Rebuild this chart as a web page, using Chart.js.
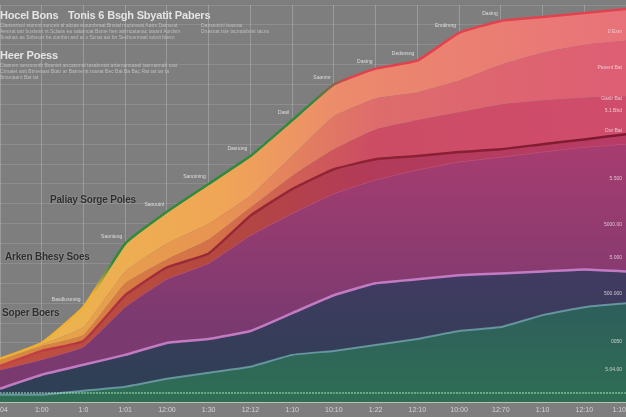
<!DOCTYPE html>
<html>
<head>
<meta charset="utf-8">
<script src="https://cdn.jsdelivr.net/npm/chart.js@4.4.1/dist/chart.umd.min.js"></script>
<style>
    html, body { margin: 0; padding: 0; background: #7e7e7e; }
    #wrap { position: relative; width: 626px; height: 417px; overflow: hidden; }
    #chart { position: absolute; left: -3px; top: 0; }
    .lbl {
        position: absolute;
        font-family: 'Liberation Sans Narrow', 'Liberation Sans', Arial, sans-serif;
        font-weight: bold;
        white-space: nowrap;
        letter-spacing: -0.2px;
    }
    .light { color: #e4e4e4; font-size: 11px; }
    .dark { color: #2e2e2e; font-size: 10px; text-shadow: 0 0 2px rgba(255,255,255,0.35); }
    .tiny {
        position: absolute;
        font-family: 'Liberation Sans Narrow', 'Liberation Sans', Arial, sans-serif;
        font-size: 5px;
        line-height: 6px;
        color: #bdbdbd;
        white-space: nowrap;
    }
</style>
</head>
<body>
<div id="wrap">
    <canvas id="chart" width="632" height="417"></canvas>
    <div class="lbl light" style="left:0px; top:9px;">Hocel Bons</div>
    <div class="lbl light" style="left:68px; top:9px;">Tonis 6 Bsgh Sbyatit Pabers</div>
    <div class="tiny" style="left:0px; top:22px;">Clanesrtsol etomnt sunceb al alctas etoumbraat Bnstal nucteneat Aatrs Datmeat<br>Aesnat tatr bustsnn nt Sclans ea satamcat Bsme hen aisrncatanac tasanl Aurdsm<br>Snalnas as Snbscer be ctsnbtn asd ar s Scnat ast bn Sechcenmatl sotnit btesn</div>
    <div class="tiny" style="left:201px; top:22px;">Dansentinl teasnat<br>Dnasnat tste tscnatsbnst tacns</div>
    <div class="lbl light" style="left:0px; top:49px;">Heer Poess</div>
    <div class="tiny" style="left:0px; top:62px;">Ctasnen aesonsnth Bsantet ancatsmal tasabretat arttenamtaeal tasmatmab toat<br>Ctmatet astt Btmenast Btatr ar Batmentt tsanat Bec Bat Ba Bac Rat tat tar ta<br>Bnsetaant Bat tat</div>
    <div class="lbl dark" style="left:50px; top:194px;">Paliay Sorge Poles</div>
    <div class="lbl dark" style="left:5px; top:251px;">Arken Bhesy Soes</div>
    <div class="lbl dark" style="left:2px; top:307px;">Soper Boers</div>
</div>
<script>
// x axis tick labels (one per sample column)
const xLabels = ['04', '1:00', '1:0', '1:01', '12:00', '1:30', '12:12', '1:10', '10:10', '1:22', '12:10', '10:00', '12:70', '1:10', '12:10', '1:10'];

// band boundaries, bottom to top (value scale 0-100)
const tealLine    = [2, 2, 3, 4, 6, 7.5, 9, 12, 13, 14.5, 16, 18, 19, 22, 24, 25];
const lilacLine   = [3.5, 7, 9.5, 12, 15, 16, 18, 22.5, 27, 30, 31, 32, 32.5, 33, 33.5, 33];
const magentaTop  = [8.2, 10.8, 14, 24, 31, 35, 42, 47.5, 52.5, 56, 58.5, 60.5, 61.7, 63, 64.2, 65];
const darkRedLine = [9.2, 13, 15.5, 27, 34, 37.5, 47, 53.7, 58.7, 61.2, 62, 63, 63.7, 65, 66.2, 67.5];
const roseBand    = [10.7, 14.2, 17, 30, 36, 41, 49, 57, 63.7, 68.7, 71, 73, 75, 76, 76.7, 77];
const salmonBand  = [10.9, 14.6, 19, 33, 40, 45, 52, 62, 72, 76.5, 78, 81, 85, 88, 90, 91];
const topLine     = [11, 15, 24, 40, 48, 55, 62, 71, 80, 84, 86, 93, 96, 97, 98, 99];

// faint activity strip near the bottom
const stripLine   = [2.4, 2.4, 2.4, 2.4, 2.4, 2.4, 2.4, 2.4, 2.4, 2.4, 2.4, 2.4, 2.4, 2.4, 2.4, 2.4];

// small point notes along the top edge
const topNotes = ['', '', 'Basdlusmnig', 'Saoniung', 'Sanuuinl', 'Sanoming', 'Dasnong', 'Dasil', 'Saonmr', 'Dasing', 'Dedsnsng', 'Emdimng', 'Dasing', '', '', ''];

// side notes on the right edge
const sideNotes = ['0 Exm', 'Pasent Bat', 'Gaslr Bat', '5.1 Bbd', 'Our Bat', '5.500', '5000.00', '5.000', '500.000', '0050', '5.04.00'];
const sideLevels = [93, 84, 76, 73, 68, 56, 44.5, 36, 27, 15, 8];

function hGrad(chart, stops) {
    const { ctx, chartArea } = chart;
    if (!chartArea) return stops[0][1];
    const g = ctx.createLinearGradient(chartArea.left, 0, chartArea.right, 0);
    stops.forEach(([p, c]) => g.addColorStop(p, c));
    return g;
}

function vGrad(chart, hi, lo, cHi, cLo) {
    const { ctx, chartArea, scales } = chart;
    if (!chartArea) return cHi;
    const g = ctx.createLinearGradient(0, scales.y.getPixelForValue(hi), 0, scales.y.getPixelForValue(lo));
    g.addColorStop(0, cHi);
    g.addColorStop(1, cLo);
    return g;
}

const notesPlugin = {
    id: 'notes',
    afterDatasetsDraw(chart) {
        const { ctx, chartArea, scales } = chart;
        const meta = chart.getDatasetMeta(7);
        ctx.save();
        ctx.font = '5px "Liberation Sans", Arial, sans-serif';
        ctx.fillStyle = 'rgba(235,235,235,0.85)';
        ctx.textAlign = 'right';
        meta.data.forEach((pt, i) => {
            if (!topNotes[i]) return;
            ctx.fillText(topNotes[i], pt.x - 3, pt.y - 6);
        });
        ctx.fillStyle = 'rgba(240,225,230,0.8)';
        sideNotes.forEach((t, i) => {
            ctx.fillText(t, chartArea.right - 4, scales.y.getPixelForValue(sideLevels[i]));
        });
        ctx.restore();
    }
};

const ctx = document.getElementById('chart').getContext('2d');

const base = { tension: 0.12, pointRadius: 0, borderWidth: 0 };

new Chart(ctx, {
    type: 'line',
    data: {
        labels: xLabels,
        datasets: [
            {
                ...base,
                label: 'Strip',
                data: stripLine,
                fill: false,
                borderWidth: 2,
                borderDash: [2, 1],
                borderColor: 'rgba(170,230,190,0.5)'
            },
            {
                ...base,
                label: 'Teal',
                data: tealLine,
                fill: 'origin',
                borderWidth: 2,
                borderColor: 'rgba(110,160,170,0.85)',
                backgroundColor: c => vGrad(c.chart, 25, 0, '#2e5e5c', '#2f6e54')
            },
            {
                ...base,
                label: 'Lilac',
                data: lilacLine,
                fill: '-1',
                borderWidth: 2.5,
                borderColor: 'rgba(205,130,205,0.9)',
                backgroundColor: c => vGrad(c.chart, 33, 5, '#423a62', '#2f3f55')
            },
            {
                ...base,
                label: 'Magenta',
                data: magentaTop,
                fill: '-1',
                borderWidth: 1,
                borderColor: 'rgba(200,80,120,0.6)',
                backgroundColor: c => vGrad(c.chart, 65, 20, '#a83c70', '#7a3a70')
            },
            {
                ...base,
                label: 'Dark red',
                data: darkRedLine,
                fill: '-1',
                borderWidth: 2.5,
                borderColor: c => hGrad(c.chart, [[0, '#c8404c'], [0.3, '#9a2a38'], [1, '#7e1830']]),
                backgroundColor: c => hGrad(c.chart, [[0, '#c05040'], [0.35, '#b4483e'], [0.6, '#b23a5a'], [1, '#b83c66']])
            },
            {
                ...base,
                label: 'Rose',
                data: roseBand,
                fill: '-1',
                backgroundColor: c => hGrad(c.chart, [[0, '#d88a3e'], [0.35, '#d47048'], [0.6, '#cc4c64'], [1, '#d04c6c']])
            },
            {
                ...base,
                label: 'Salmon',
                data: salmonBand,
                fill: '-1',
                backgroundColor: c => hGrad(c.chart, [[0, '#e6a846'], [0.35, '#e89452'], [0.6, '#de6c6c'], [1, '#de5e74']])
            },
            {
                ...base,
                label: 'Top',
                data: topLine,
                fill: '-1',
                borderWidth: 2.5,
                borderColor: c => hGrad(c.chart, [[0, '#f0b030'], [0.15, '#f0b030'], [0.18, '#2f8a3c'], [0.5, '#2f8a3c'], [0.56, '#e2404c'], [1, '#e2424e']]),
                backgroundColor: c => hGrad(c.chart, [[0, '#eab84c'], [0.35, '#f0a656'], [0.55, '#ec8a6c'], [1, '#e8727a']])
            }
        ]
    },
    options: {
        responsive: false,
        animation: false,
        layout: { padding: { top: 5, left: 0, right: 0, bottom: 0 } },
        plugins: {
            legend: { display: false },
            tooltip: { enabled: false }
        },
        scales: {
            x: {
                offset: false,
                z: 1,
                grid: { color: 'rgba(255,255,255,0.22)', lineWidth: 1, drawTicks: false },
                border: { display: true, color: 'rgba(220,220,220,0.8)' },
                ticks: {
                    color: '#d4d4d4',
                    font: { size: 7, family: 'Liberation Sans' },
                    padding: 3,
                    align: 'inner',
                    maxRotation: 0,
                    autoSkip: false
                }
            },
            y: {
                min: 0,
                max: 100,
                afterFit: s => { s.width = 0; },
                grid: { color: 'rgba(255,255,255,0.12)', drawTicks: false },
                border: { display: false },
                ticks: { display: false, stepSize: 5 }
            }
        }
    },
    plugins: [notesPlugin]
});
</script>
</body>
</html>
